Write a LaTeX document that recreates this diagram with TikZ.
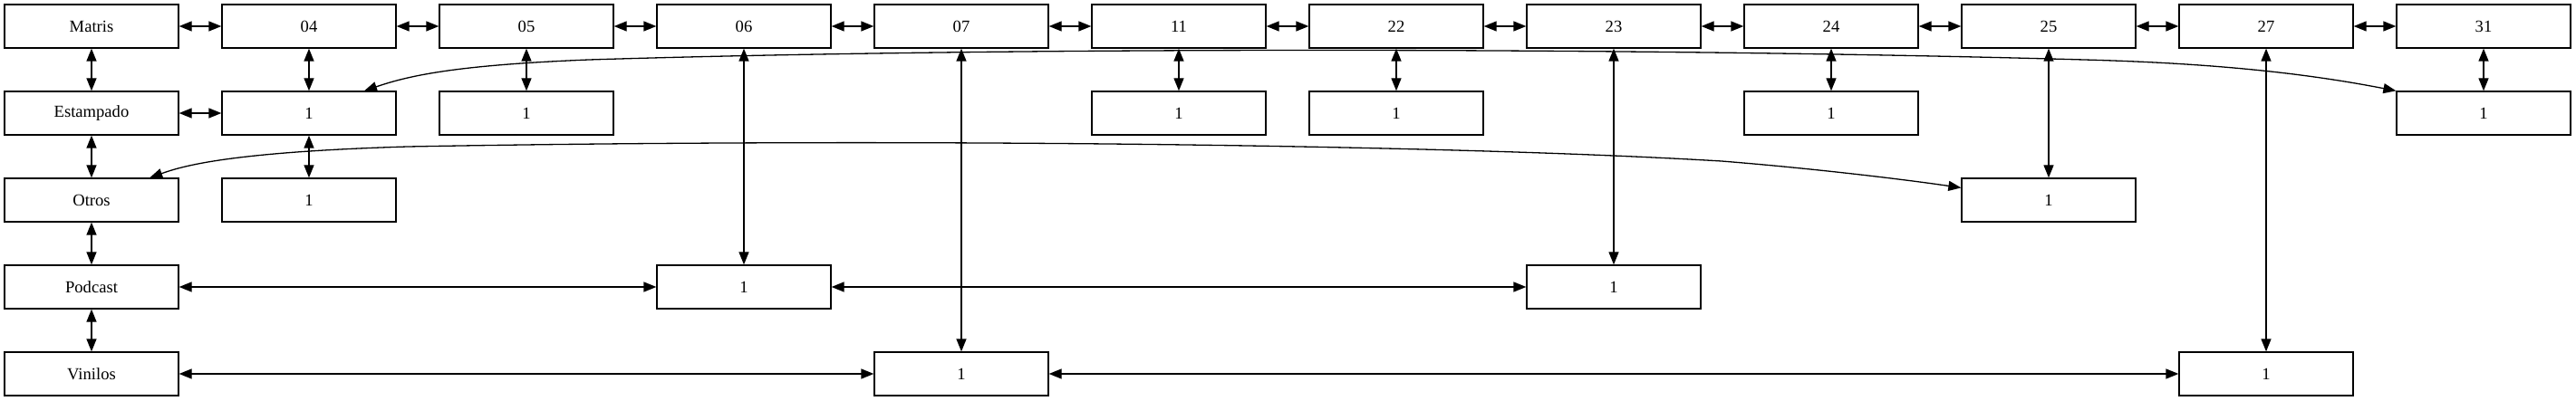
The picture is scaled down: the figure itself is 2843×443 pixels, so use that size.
\documentclass[tikz,border=0pt]{standalone}
\usepackage{fontspec}
\setmainfont{Liberation Serif}
\usetikzlibrary{arrows.meta}
\begin{document}
\begin{tikzpicture}[x=0.5pt,y=-0.5pt,
  box/.style={draw,line width=0.65pt,rectangle,minimum width=96pt,minimum height=24pt,inner sep=0pt,font=\fontsize{9.3pt}{11pt}\selectfont},
  link/.style={line width=0.65pt,{Triangle[length=7pt,width=5.5pt]}-{Triangle[length=7pt,width=5.5pt]}}]
\useasboundingbox (0,0) rectangle (2843,443);
% row 1
\node[box] (matris) at (101,29) {Matris};
\node[box] (c04) at (341,29) {04};
\node[box] (c05) at (581,29) {05};
\node[box] (c06) at (821,29) {06};
\node[box] (c07) at (1061,29) {07};
\node[box] (c11) at (1301,29) {11};
\node[box] (c22) at (1541,29) {22};
\node[box] (c23) at (1781,29) {23};
\node[box] (c24) at (2021,29) {24};
\node[box] (c25) at (2261,29) {25};
\node[box] (c27) at (2501,29) {27};
\node[box] (c31) at (2741,29) {31};
% row 2
\node[box] (estampado) at (101,125) {Estampado};
\node[box] (r2c1) at (341,125) {1};
\node[box] (r2c2) at (581,125) {1};
\node[box] (r2c5) at (1301,125) {1};
\node[box] (r2c6) at (1541,125) {1};
\node[box] (r2c8) at (2021,125) {1};
\node[box] (r2c11) at (2741,125) {1};
% row 3
\node[box] (otros) at (101,221) {Otros};
\node[box] (r3c1) at (341,221) {1};
\node[box] (r3c9) at (2261,221) {1};
% row 4
\node[box] (podcast) at (101,317) {Podcast};
\node[box] (r4c3) at (821,317) {1};
\node[box] (r4c7) at (1781,317) {1};
% row 5
\node[box] (vinilos) at (101,413) {Vinilos};
\node[box] (r5c4) at (1061,413) {1};
\node[box] (r5c10) at (2501,413) {1};
% top row links
\draw[link] (matris) -- (c04);
\draw[link] (c04) -- (c05);
\draw[link] (c05) -- (c06);
\draw[link] (c06) -- (c07);
\draw[link] (c07) -- (c11);
\draw[link] (c11) -- (c22);
\draw[link] (c22) -- (c23);
\draw[link] (c23) -- (c24);
\draw[link] (c24) -- (c25);
\draw[link] (c25) -- (c27);
\draw[link] (c27) -- (c31);
% first column
\draw[link] (matris) -- (estampado);
\draw[link] (estampado) -- (otros);
\draw[link] (otros) -- (podcast);
\draw[link] (podcast) -- (vinilos);
% verticals
\draw[link] (c04) -- (r2c1);
\draw[link] (r2c1) -- (r3c1);
\draw[link] (c05) -- (r2c2);
\draw[link] (c06) -- (r4c3);
\draw[link] (c07) -- (r5c4);
\draw[link] (c11) -- (r2c5);
\draw[link] (c22) -- (r2c6);
\draw[link] (c23) -- (r4c7);
\draw[link] (c24) -- (r2c8);
\draw[link] (c25) -- (r3c9);
\draw[link] (c27) -- (r5c10);
\draw[link] (c31) -- (r2c11);
% horizontals
\draw[link] (estampado) -- (r2c1);
\draw[link] (podcast) -- (r4c3);
\draw[link] (r4c3) -- (r4c7);
\draw[link] (vinilos) -- (r5c4);
\draw[link] (r5c4) -- (r5c10);
% curves
\draw[link] (r2c1.22) .. controls (450,84) and (500,72) .. (650,66)
  .. controls (1100,52) and (1800,52) .. (2300,66)
  .. controls (2450,70) and (2550,82) .. (r2c11.north west);
\draw[link] (otros.21) .. controls (200,184) and (250,168) .. (450,162)
  .. controls (1000,152) and (1600,160) .. (1900,178)
  .. controls (2000,186) and (2100,198) .. (r3c9.172);
\end{tikzpicture}
\end{document}
